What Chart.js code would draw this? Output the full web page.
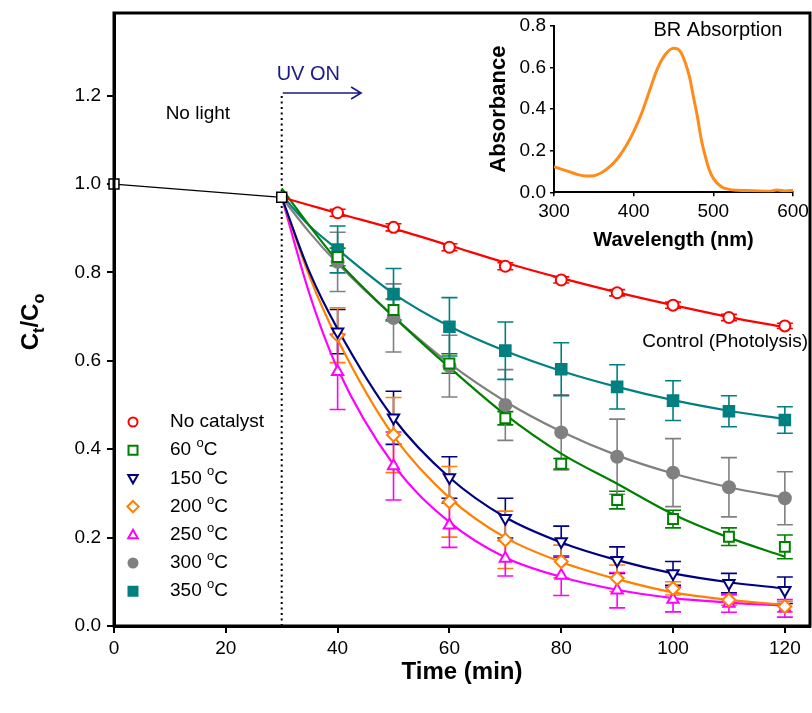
<!DOCTYPE html>
<html>
<head>
<meta charset="utf-8">
<script src="https://cdn.jsdelivr.net/npm/chart.js@4/dist/chart.umd.min.js"></script>
<style>
  html, body { margin: 0; padding: 0; background: #fff; }
  #wrap { position: relative; width: 812px; height: 713px; }
  #main { position: absolute; left: 0; top: 0; }
  #inset { position: absolute; left: 470px; top: 0; }
</style>
</head>
<body>
<div id="wrap">
  <canvas id="main" width="812" height="713"></canvas>
  <canvas id="inset" width="342" height="260"></canvas>
</div>
<script>
// ---- Data -------------------------------------------------------------
// dark adsorption period (no light)
const darkTime = [0, 30];
const darkRatio = [1.00, 0.97];

// sampling times under UV and the times at which the fitted curves are traced
const sampleTime = [40, 50, 60, 70, 80, 90, 100, 110, 120];
const fitTime = [30, 35, 40, 50, 60, 70, 80, 90, 100, 110, 120];

const seriesNames = ['No catalyst', '60 °C', '150 °C', '200 °C', '250 °C', '300 °C', '350 °C'];

const noCatalyst    = [0.935, 0.902, 0.857, 0.814, 0.783, 0.754, 0.726, 0.698, 0.679];
const noCatalystErr = [0.008, 0.008, 0.008, 0.008, 0.007, 0.007, 0.007, 0.007, 0.006];
const noCatalystFit = [0.970, 0.952, 0.934, 0.899, 0.861, 0.822, 0.787, 0.755, 0.726, 0.699, 0.676];

const cat60    = [0.835, 0.715, 0.594, 0.470, 0.367, 0.285, 0.242, 0.202, 0.179];
const cat60Err = [0.020, 0.025, 0.022, 0.015, 0.012, 0.020, 0.020, 0.020, 0.027];
const cat60Fit = [0.990, 0.905, 0.826, 0.700, 0.585, 0.478, 0.390, 0.322, 0.253, 0.200, 0.157];

const cat150    = [0.666, 0.471, 0.336, 0.244, 0.191, 0.149, 0.119, 0.097, 0.081];
const cat150Err = [0.050, 0.060, 0.047, 0.045, 0.035, 0.030, 0.027, 0.022, 0.030];
const cat150Fit = [0.970, 0.800, 0.672, 0.470, 0.336, 0.246, 0.189, 0.149, 0.119, 0.099, 0.085];

const cat200    = [0.658, 0.432, 0.281, 0.195, 0.146, 0.108, 0.085, 0.059, 0.044];
const cat200Err = [0.062, 0.085, 0.080, 0.065, 0.037, 0.030, 0.015, 0.012, 0.012];
const cat200Fit = [0.970, 0.790, 0.648, 0.430, 0.290, 0.200, 0.145, 0.106, 0.076, 0.059, 0.048];

const cat250    = [0.575, 0.362, 0.228, 0.153, 0.114, 0.081, 0.060, 0.051, 0.040];
const cat250Err = [0.085, 0.077, 0.050, 0.040, 0.045, 0.040, 0.028, 0.020, 0.020];
const cat250Fit = [0.970, 0.750, 0.582, 0.365, 0.235, 0.155, 0.111, 0.082, 0.063, 0.053, 0.046];

const cat300    = [0.824, 0.697, 0.588, 0.500, 0.438, 0.383, 0.347, 0.314, 0.289];
const cat300Err = [0.067, 0.077, 0.070, 0.080, 0.085, 0.085, 0.077, 0.067, 0.060];
const cat300Fit = [0.970, 0.890, 0.820, 0.700, 0.594, 0.508, 0.440, 0.386, 0.345, 0.314, 0.290];

const cat350    = [0.852, 0.751, 0.677, 0.623, 0.581, 0.541, 0.510, 0.486, 0.466];
const cat350Err = [0.053, 0.058, 0.066, 0.065, 0.060, 0.050, 0.045, 0.035, 0.030];
const cat350Fit = [0.975, 0.905, 0.852, 0.752, 0.678, 0.622, 0.577, 0.541, 0.511, 0.487, 0.468];

const xTickValues = [0, 20, 40, 60, 80, 100, 120];
const yTickValues = [0, 0.2, 0.4, 0.6, 0.8, 1.0, 1.2];

// BR absorption spectrum (inset)
const wavelength = [300, 310, 320, 330, 340, 350, 360, 370, 380, 390, 400, 410, 420, 430, 440, 450, 455, 460,
                    470, 475, 480, 485, 490, 495, 500, 510, 520, 530, 550, 570, 580, 590, 600];
const absorbance = [0.123, 0.110, 0.098, 0.085, 0.079, 0.080, 0.095, 0.123, 0.164, 0.220, 0.292, 0.380, 0.490,
                    0.596, 0.664, 0.693, 0.690, 0.668, 0.556, 0.460, 0.364, 0.252, 0.172, 0.107, 0.067, 0.027,
                    0.014, 0.010, 0.008, 0.005, 0.011, 0.006, 0.010];
const insetXTicks = [300, 400, 500, 600];
const insetYTicks = [0, 0.2, 0.4, 0.6, 0.8];

// ---- Styling --------------------------------------------------------
const FONT = "'Liberation Sans', Arial, Helvetica, sans-serif";
Chart.defaults.font.family = FONT;
Chart.defaults.color = '#000';

const seriesValues = [noCatalyst, cat60, cat150, cat200, cat250, cat300, cat350];
const seriesErrors = [noCatalystErr, cat60Err, cat150Err, cat200Err, cat250Err, cat300Err, cat350Err];
const seriesFits   = [noCatalystFit, cat60Fit, cat150Fit, cat200Fit, cat250Fit, cat300Fit, cat350Fit];
const seriesColors = ['#FF0000', '#008000', '#000080', '#FF8000', '#FF00FF', '#808080', '#008080'];
const markers = [
  { style: 'circle',   r: 5.5, rot: 0,   filled: false },
  { style: 'rect',     r: 7,   rot: 0,   filled: false },
  { style: 'triangle', r: 6.5, rot: 180, filled: false },
  { style: 'rectRot',  r: 6.5, rot: 0,   filled: false },
  { style: 'triangle', r: 6.5, rot: 0,   filled: false },
  { style: 'circle',   r: 6,   rot: 0,   filled: true  },
  { style: 'rect',     r: 7.5, rot: 0,   filled: true  }
];

const toPoints = (xs, ys) => xs.map((x, i) => ({ x: x, y: ys[i] }));

const datasets = [];
seriesValues.forEach((vals, i) => {
  const m = markers[i];
  datasets.push({
    label: seriesNames[i],
    data: toPoints(sampleTime, vals),
    errors: seriesErrors[i],
    showLine: false,
    pointStyle: m.style,
    pointRadius: m.r,
    pointRotation: m.rot,
    pointBorderWidth: 2,
    pointBorderColor: seriesColors[i],
    pointBackgroundColor: m.filled ? seriesColors[i] : '#FFFFFF',
    borderColor: seriesColors[i],
    order: 0
  });
  datasets.push({
    label: seriesNames[i] + ' fit',
    data: toPoints(fitTime, seriesFits[i]),
    showLine: true,
    borderColor: seriesColors[i],
    borderWidth: 2.2,
    pointRadius: 0,
    cubicInterpolationMode: 'monotone',
    fill: false,
    order: 1
  });
});
datasets.push({
  label: 'dark',
  data: toPoints(darkTime, darkRatio),
  showLine: true,
  borderColor: '#000000',
  borderWidth: 1.2,
  pointStyle: 'rect',
  pointRadius: 7,
  pointBorderWidth: 1.5,
  pointBorderColor: '#000000',
  pointBackgroundColor: '#FFFFFF',
  clip: false,
  order: 0
});

// ---- Plugins ----------------------------------------------------------
const errorBars = {
  id: 'errorBars',
  beforeDatasetsDraw(chart) {
    const { ctx, scales: { x, y } } = chart;
    chart.data.datasets.forEach(ds => {
      if (!ds.errors) return;
      ctx.save();
      ctx.strokeStyle = ds.borderColor;
      ctx.lineWidth = 1.6;
      ds.data.forEach((p, i) => {
        const e = ds.errors[i];
        const px = x.getPixelForValue(p.x);
        const top = y.getPixelForValue(p.y + e);
        const bot = y.getPixelForValue(p.y - e);
        ctx.beginPath();
        ctx.moveTo(px, top); ctx.lineTo(px, bot);
        ctx.moveTo(px - 8, top); ctx.lineTo(px + 8, top);
        ctx.moveTo(px - 8, bot); ctx.lineTo(px + 8, bot);
        ctx.stroke();
      });
      ctx.restore();
    });
  }
};

function drawMarker(ctx, m, color, x, y, r) {
  ctx.save();
  ctx.lineWidth = 2;
  ctx.strokeStyle = color;
  ctx.fillStyle = m.filled ? color : '#FFFFFF';
  ctx.beginPath();
  if (m.style === 'circle') {
    ctx.arc(x, y, r, 0, Math.PI * 2);
  } else if (m.style === 'rect') {
    ctx.rect(x - r, y - r, 2 * r, 2 * r);
  } else if (m.style === 'rectRot') {
    ctx.moveTo(x, y - r * 1.25); ctx.lineTo(x + r * 1.25, y);
    ctx.lineTo(x, y + r * 1.25); ctx.lineTo(x - r * 1.25, y); ctx.closePath();
  } else if (m.style === 'triangle') {
    const s = m.rot === 180 ? -1 : 1;
    ctx.moveTo(x, y - s * r * 1.1);
    ctx.lineTo(x + r * 1.05, y + s * r * 0.75);
    ctx.lineTo(x - r * 1.05, y + s * r * 0.75);
    ctx.closePath();
  }
  ctx.fill();
  ctx.stroke();
  ctx.restore();
}

function degreeText(ctx, label, x, y, size) {
  const parts = label.split('°');
  ctx.textAlign = 'left';
  ctx.textBaseline = 'middle';
  ctx.font = size + 'px ' + FONT;
  ctx.fillText(parts[0], x, y);
  if (parts.length > 1) {
    const w = ctx.measureText(parts[0]).width;
    ctx.font = Math.round(size * 0.7) + 'px ' + FONT;
    ctx.fillText('o', x + w, y - size * 0.35);
    const w2 = ctx.measureText('o').width;
    ctx.font = size + 'px ' + FONT;
    ctx.fillText(parts[1], x + w + w2, y);
  }
}

const decorations = {
  id: 'decorations',
  beforeDatasetsDraw(chart) {
    const { ctx, scales: { x, y } } = chart;
    // light switched on at t = 30 min
    ctx.save();
    ctx.strokeStyle = '#000';
    ctx.lineWidth = 2;
    ctx.setLineDash([2, 3.5]);
    ctx.beginPath();
    ctx.moveTo(x.getPixelForValue(30), y.getPixelForValue(0));
    ctx.lineTo(x.getPixelForValue(30), y.getPixelForValue(1.206));
    ctx.stroke();
    ctx.restore();
  },
  afterDraw(chart) {
    const { ctx, chartArea: a, scales: { x, y } } = chart;
    ctx.save();
    // frame
    ctx.strokeStyle = '#000';
    ctx.lineWidth = 3;
    ctx.strokeRect(a.left, a.top, a.right - a.left, a.bottom - a.top);

    // UV ON arrow
    const ax0 = x.getPixelForValue(30) + 1, ax1 = x.getPixelForValue(44.2), ay = y.getPixelForValue(1.206);
    ctx.strokeStyle = '#1A1A8C';
    ctx.lineWidth = 1.6;
    ctx.beginPath();
    ctx.moveTo(ax0, ay); ctx.lineTo(ax1, ay);
    ctx.moveTo(ax1 - 10, ay - 6); ctx.lineTo(ax1, ay); ctx.lineTo(ax1 - 10, ay + 6);
    ctx.stroke();
    ctx.fillStyle = '#1A1A8C';
    ctx.font = '20px ' + FONT;
    ctx.textAlign = 'left';
    ctx.textBaseline = 'middle';
    ctx.fillText('UV ON', x.getPixelForValue(29.1), y.getPixelForValue(1.249));

    ctx.fillStyle = '#000';
    ctx.font = '19px ' + FONT;
    ctx.textAlign = 'center';
    ctx.fillText('No light', x.getPixelForValue(15), y.getPixelForValue(1.16));
    ctx.textAlign = 'right';
    ctx.fillText('Control (Photolysis)', a.right - 2, y.getPixelForValue(0.643));

    // legend
    const lx = 133, ly0 = 422, dy = 28.2;
    seriesNames.forEach((name, i) => {
      const ly = ly0 + i * dy;
      drawMarker(ctx, markers[i], seriesColors[i], lx, ly, 4.5);
      ctx.fillStyle = '#000';
      degreeText(ctx, name, 170, ly, 19);
    });

    // axis titles
    ctx.fillStyle = '#000';
    ctx.font = 'bold 24px ' + FONT;
    ctx.textAlign = 'center';
    ctx.textBaseline = 'middle';
    ctx.fillText('Time (min)', (a.left + a.right) / 2, 672);

    ctx.translate(30, 322);
    ctx.rotate(-Math.PI / 2);
    const segs = [['C', 24, 0], ['t', 16, 6], ['/C', 24, 0], ['o', 16, 6]];
    let total = 0;
    segs.forEach(s => { ctx.font = 'bold ' + s[1] + 'px ' + FONT; total += ctx.measureText(s[0]).width; });
    let cx = -total / 2;
    ctx.textAlign = 'left';
    ctx.textBaseline = 'alphabetic';
    segs.forEach(s => {
      ctx.font = 'bold ' + s[1] + 'px ' + FONT;
      ctx.fillText(s[0], cx, 8 + s[2]);
      cx += ctx.measureText(s[0]).width;
    });
    ctx.restore();
  }
};

// keep the plot area exactly where the layout padding puts it
const fixX = h => s => { s.height = h; s.paddingLeft = 0; s.paddingRight = 0; };
const fixY = w => s => { s.width = w; s.paddingTop = 0; s.paddingBottom = 0; };

// ---- Main chart -------------------------------------------------------
new Chart(document.getElementById('main'), {
  type: 'line',
  data: { datasets: datasets },
  options: {
    responsive: false,
    animation: false,
    layout: { autoPadding: false, padding: { left: 0, right: 2, top: 13, bottom: 0 } },
    plugins: { legend: { display: false }, tooltip: { enabled: false } },
    scales: {
      x: {
        type: 'linear',
        min: 0,
        max: 124.5,
        afterBuildTicks: s => { s.ticks = xTickValues.map(v => ({ value: v })); },
        afterFit: fixX(87),
        ticks: { font: { size: 19 }, color: '#000', padding: 4, maxRotation: 0 },
        grid: { display: true, drawOnChartArea: false, drawTicks: true, tickLength: 7, color: '#000', lineWidth: 2 },
        border: { display: true, color: '#000', width: 3 }
      },
      y: {
        type: 'linear',
        min: 0,
        max: 1.387,
        afterBuildTicks: s => { s.ticks = yTickValues.map(v => ({ value: v })); },
        afterFit: fixY(114),
        ticks: { font: { size: 19 }, color: '#000', padding: 6, callback: v => Number(v).toFixed(1) },
        grid: { display: true, drawOnChartArea: false, drawTicks: true, tickLength: 7, color: '#000', lineWidth: 2 },
        border: { display: true, color: '#000', width: 3 }
      }
    }
  },
  plugins: [decorations, errorBars]
});

// ---- Inset: absorption spectrum ----------------------------------------
const insetText = {
  id: 'insetText',
  afterDraw(chart) {
    const { ctx, chartArea: a } = chart;
    ctx.save();
    ctx.fillStyle = '#000';
    ctx.textBaseline = 'middle';
    ctx.textAlign = 'center';
    ctx.font = '20px ' + FONT;
    ctx.fillText('BR Absorption', 248, 30);
    ctx.font = 'bold 20px ' + FONT;
    ctx.fillText('Wavelength (nm)', (a.left + a.right) / 2, 240);
    ctx.translate(29, (a.top + a.bottom) / 2);
    ctx.rotate(-Math.PI / 2);
    ctx.font = 'bold 22px ' + FONT;
    ctx.fillText('Absorbance', 0, 0);
    ctx.restore();
  }
};

new Chart(document.getElementById('inset'), {
  type: 'line',
  data: {
    datasets: [{
      label: 'BR',
      data: toPoints(wavelength, absorbance),
      borderColor: '#FF8C1A',
      borderWidth: 3,
      pointRadius: 0,
      cubicInterpolationMode: 'monotone',
      fill: false
    }]
  },
  options: {
    responsive: false,
    animation: false,
    layout: { autoPadding: false, padding: { left: 0, right: 19, top: 26, bottom: 0 } },
    plugins: { legend: { display: false }, tooltip: { enabled: false } },
    scales: {
      x: {
        type: 'linear',
        min: 300,
        max: 600,
        afterBuildTicks: s => { s.ticks = insetXTicks.map(v => ({ value: v })); },
        afterFit: fixX(67.7),
        ticks: { font: { size: 19 }, color: '#000', padding: 4, maxRotation: 0 },
        grid: { display: true, drawOnChartArea: false, drawTicks: true, tickLength: 4, color: '#000', lineWidth: 1.5 },
        border: { display: true, color: '#000', width: 2 }
      },
      y: {
        type: 'linear',
        min: 0,
        max: 0.8,
        afterBuildTicks: s => { s.ticks = insetYTicks.map(v => ({ value: v })); },
        afterFit: fixY(84),
        ticks: { font: { size: 19 }, color: '#000', padding: 4, callback: v => Number(v).toFixed(1) },
        grid: { display: true, drawOnChartArea: false, drawTicks: true, tickLength: 4, color: '#000', lineWidth: 1.5 },
        border: { display: true, color: '#000', width: 2 }
      }
    }
  },
  plugins: [insetText]
});
</script>
</body>
</html>
